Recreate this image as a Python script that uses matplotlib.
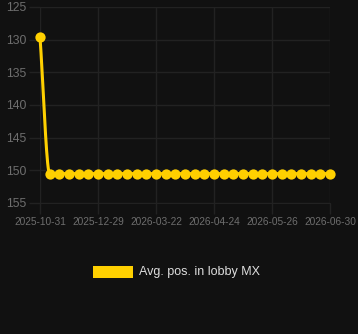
import numpy as np
import matplotlib
matplotlib.use("Agg")
import matplotlib.pyplot as plt
from matplotlib.patches import Rectangle

BG = "#111111"
GOLD = "#FFD000"
GRID = "#222222"
TICK = "#6e6e6e"

# one value per snapshot (category axis), first one higher in the lobby
positions = [129.6] + [150.5] * 30
tick_idx = [0, 6, 12, 18, 24, 30]
tick_labels = ["2025-10-31", "2025-12-29", "2026-03-22", "2026-04-24", "2026-05-26", "2026-06-30"]
y_ticks = [125, 130, 135, 140, 145, 150, 155]
series_name = "Avg. pos. in lobby MX"


def monotone_curve(x, y, n=20):
    # monotone cubic hermite, like a chart.js smoothed line
    x = np.asarray(x, float)
    y = np.asarray(y, float)
    h = np.diff(x)
    d = np.diff(y) / h
    m = np.zeros_like(y)
    m[0], m[-1] = d[0], d[-1]
    for i in range(1, len(y) - 1):
        m[i] = 0 if d[i - 1] * d[i] <= 0 else (d[i - 1] + d[i]) / 2
    for i in range(len(d)):
        if d[i] == 0:
            m[i] = m[i + 1] = 0
    xs, ys = [], []
    for i in range(len(d)):
        t = np.linspace(0, 1, n)
        h00 = 2 * t**3 - 3 * t**2 + 1
        h10 = t**3 - 2 * t**2 + t
        h01 = -2 * t**3 + 3 * t**2
        h11 = t**3 - t**2
        xs.append(x[i] + t * h[i])
        ys.append(h00 * y[i] + h10 * h[i] * m[i] + h01 * y[i + 1] + h11 * h[i] * m[i + 1])
    return np.concatenate(xs), np.concatenate(ys)


fig = plt.figure(figsize=(3.58, 3.34), dpi=100, facecolor=BG)
ax = fig.add_axes([40 / 358, 1 - 203 / 334, 290 / 358, 196 / 334], facecolor=BG)
plt.rcParams["font.family"] = ["Liberation Sans", "DejaVu Sans"]

xi = np.arange(len(positions))
cx, cy = monotone_curve(xi, positions)
ax.plot(cx, cy, color=GOLD, linewidth=2.2, clip_on=False, zorder=3)
ax.plot(xi, positions, "o", color=GOLD, markersize=7.4, markeredgewidth=0, clip_on=False, zorder=4)

ax.set_xlim(0, len(positions) - 1)
ax.set_ylim(155, 125)
ax.set_yticks(y_ticks)
ax.set_xticks(tick_idx)
ax.set_xticklabels(tick_labels, family="Liberation Sans")
ax.set_yticklabels([str(v) for v in y_ticks], family="Liberation Sans")
ax.tick_params(axis="x", colors=GRID, labelcolor=TICK, labelsize=7.3, length=8, width=1, pad=2)
ax.tick_params(axis="y", colors=GRID, labelcolor=TICK, labelsize=8.8, length=8, width=1, pad=2)
ax.grid(True, color=GRID, linewidth=1)
for s in ax.spines.values():
    s.set_visible(False)
ax.spines["bottom"].set_visible(True)
ax.spines["bottom"].set_color(GRID)
ax.spines["left"].set_visible(True)
ax.spines["left"].set_color(GRID)

# legend drawn chart.js style below the plot
fig.patches.append(Rectangle((93 / 358, 1 - 278 / 334), 40 / 358, 12 / 334,
                             transform=fig.transFigure, facecolor=GOLD, edgecolor="none"))
fig.text(139 / 358, 1 - 272 / 334, series_name, color="#dddddd", fontsize=9,
         family="Liberation Sans", va="center", ha="left")

fig.savefig("out.png", dpi=100, facecolor=BG)
